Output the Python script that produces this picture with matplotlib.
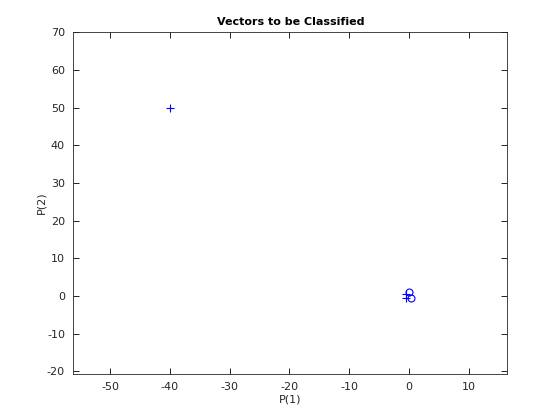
import matplotlib.pyplot as plt
import numpy as np

# Input vectors and targets (perceptron outlier example)
p1 = np.array([-0.5, -0.5, 0.3, -0.1, -40])
p2 = np.array([-0.5, 0.5, -0.5, 1.0, 50])
targets = np.array([1, 1, 0, 0, 1])

plt.rcParams["font.family"] = "DejaVu Sans"
plt.rcParams["font.size"] = 8
plt.rcParams["axes.unicode_minus"] = False

fig = plt.figure(figsize=(5.6, 4.2), dpi=100)
ax = fig.add_axes([0.131, 0.11, 0.775, 0.815])

# target 1 -> '+', target 0 -> 'o'
ax.plot(p1[targets == 1], p2[targets == 1], "+", color="blue", ms=6, mew=0.8)
ax.plot(p1[targets == 0], p2[targets == 0], "o", color="blue", ms=5, mew=0.8,
        fillstyle="none")

# axis margins like plotpv
xr = p1.max() - p1.min()
yr = p2.max() - p2.min()
ax.set_xlim(p1.min() - 0.4 * xr, p1.max() + 0.4 * xr)
ax.set_ylim(p2.min() - 0.4 * yr, p2.max() + 0.4 * yr)
ax.set_xticks(np.arange(-50, 11, 10))
ax.set_yticks(np.arange(-20, 71, 10))

ax.tick_params(direction="in", top=True, right=True, length=4, width=0.6,
               labelsize=8, labelcolor="#262626", pad=6)
for s in ax.spines.values():
    s.set_linewidth(0.6)
    s.set_color("#262626")

ax.set_title("Vectors to be Classified", fontsize=8, fontweight="bold", pad=5)
ax.set_xlabel("P(1)", fontsize=8, color="#262626", labelpad=2)
ax.set_ylabel("P(2)", fontsize=8, color="#262626")
ax.yaxis.set_label_coords(-0.062, 0.5)

fig.savefig("out.png", dpi=100)
